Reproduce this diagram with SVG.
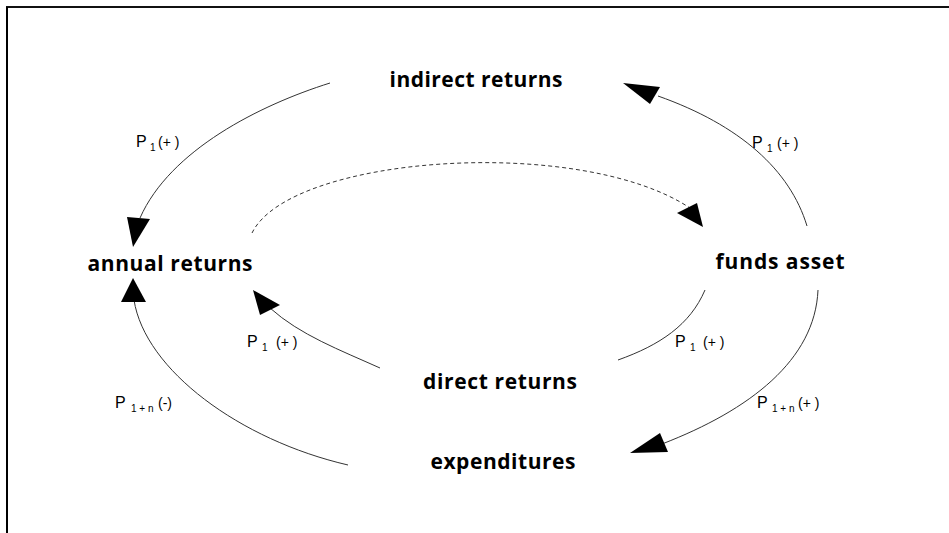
<svg xmlns="http://www.w3.org/2000/svg" width="949" height="533" viewBox="0 0 949 533">
<style>
.node{font-family:"Open Sans","Liberation Sans",sans-serif;font-weight:bold;font-size:21px;fill:#000;text-anchor:middle}
.lbl{font-family:"Liberation Sans",Arial,sans-serif;font-size:16px;fill:#000}
.sub{font-size:10px}
.par{font-size:14px}
.edge{fill:none;stroke:#333;stroke-width:1}
.dash{fill:none;stroke:#333;stroke-width:1;stroke-dasharray:4 3}
.head{fill:#000;stroke:none}
</style>
<rect x="0" y="0" width="949" height="533" fill="#fff"/>
<g id="frame">
<line x1="6" y1="7" x2="949" y2="7" stroke="#111" stroke-width="2"/>
<line x1="7" y1="7" x2="7" y2="533" stroke="#000" stroke-width="2"/>
</g>
<g id="connectors">
<path class="edge" d="M330,83 C260,105 170,150 140,218"/>
<polygon class="head" points="127,217 150,219 133,247"/>
<path class="edge" d="M807,226 C790,170 740,125 658,96"/>
<polygon class="head" points="623,83 660,87 650,104"/>
<path class="dash" d="M252,233 C290,155 580,135 690,208"/>
<polygon class="head" points="677,213 697,203 703,227"/>
<path class="edge" d="M380,368 C340,350 300,335 270,308"/>
<polygon class="head" points="253,290 280,305 260,315"/>
<path class="edge" d="M705,290 C690,325 660,345 618,360"/>
<path class="edge" d="M818,290 C815,360 750,410 662,444"/>
<polygon class="head" points="630,453 660,433 668,452"/>
<path class="edge" d="M134,300 C145,370 240,440 348,465"/>
<polygon class="head" points="133,278 121,302 146,302"/>
</g>
<g id="indirect-returns"><text class="node" x="476" y="87" textLength="173" lengthAdjust="spacing">indirect returns</text></g>
<g id="annual-returns"><text class="node" x="170" y="271" textLength="165" lengthAdjust="spacing">annual returns</text></g>
<g id="funds-asset"><text class="node" x="780" y="269" textLength="129" lengthAdjust="spacing">funds asset</text></g>
<g id="direct-returns"><text class="node" x="500" y="389" textLength="154" lengthAdjust="spacing">direct returns</text></g>
<g id="expenditures"><text class="node" x="503" y="469" textLength="145" lengthAdjust="spacing">expenditures</text></g>
<g id="labels">
<text class="lbl" x="136" y="147">P<tspan class="sub" x="150" y="151">1</tspan><tspan class="par" x="158" y="147">(+ )</tspan></text>
<text class="lbl" x="752" y="148">P<tspan class="sub" x="767" y="152">1</tspan><tspan class="par" x="777" y="148">(+ )</tspan></text>
<text class="lbl" x="247" y="347">P<tspan class="sub" x="262" y="351">1</tspan><tspan class="par" x="276" y="347">(+ )</tspan></text>
<text class="lbl" x="675" y="347">P<tspan class="sub" x="690" y="351">1</tspan><tspan class="par" x="703" y="347">(+ )</tspan></text>
<text class="lbl" x="757" y="408">P<tspan class="sub" x="772" y="412">1 + n</tspan><tspan class="par" x="798" y="408">(+ )</tspan></text>
<text class="lbl" x="115" y="408">P<tspan class="sub" x="131" y="412">1 + n</tspan><tspan class="par" x="158" y="408">(-)</tspan></text>
</g>
</svg>
